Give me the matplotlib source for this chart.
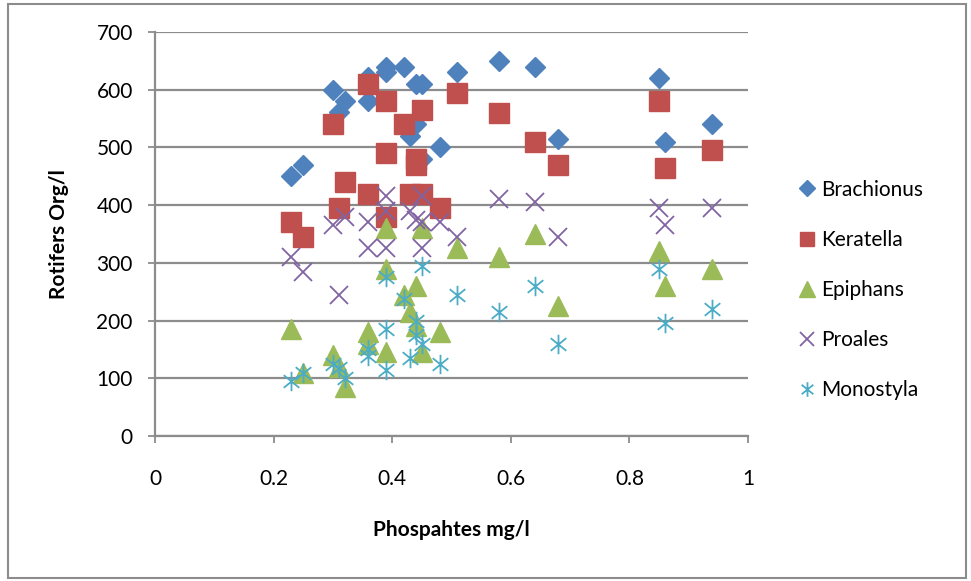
import numpy as np
import matplotlib
matplotlib.use("Agg")
import matplotlib.pyplot as plt
from matplotlib.path import Path
from matplotlib.patches import Rectangle

plt.rcParams['font.family'] = ['Lato', 'DejaVu Sans']

# data
brach_x = [0.23, 0.25, 0.30, 0.31, 0.32, 0.36, 0.36, 0.39, 0.39, 0.42, 0.43, 0.44,
           0.44, 0.45, 0.45, 0.48, 0.51, 0.58, 0.64, 0.68, 0.85, 0.86, 0.94]
brach_y = [450, 470, 600, 562, 580, 622, 580, 640, 630, 640, 520, 610,
           540, 610, 480, 500, 630, 650, 640, 515, 620, 510, 540]

kera_x = [0.23, 0.25, 0.30, 0.31, 0.32, 0.36, 0.36, 0.39, 0.39, 0.39, 0.42, 0.43,
          0.44, 0.44, 0.45, 0.45, 0.48, 0.51, 0.58, 0.64, 0.68, 0.85, 0.86, 0.94]
kera_y = [370, 345, 540, 395, 440, 610, 420, 580, 490, 380, 540, 420,
          480, 470, 565, 420, 395, 595, 560, 510, 470, 580, 465, 495]

epi_x = [0.23, 0.25, 0.30, 0.31, 0.32, 0.36, 0.36, 0.39, 0.39, 0.39, 0.42, 0.43,
         0.44, 0.44, 0.45, 0.45, 0.48, 0.51, 0.58, 0.64, 0.68, 0.85, 0.86, 0.94]
epi_y = [185, 110, 140, 120, 85, 180, 160, 360, 290, 145, 245, 215,
         260, 190, 360, 145, 180, 325, 310, 350, 225, 320, 260, 290]

proa_x = [0.23, 0.25, 0.30, 0.31, 0.32, 0.36, 0.36, 0.39, 0.39, 0.39, 0.43, 0.44,
          0.45, 0.45, 0.45, 0.48, 0.51, 0.58, 0.64, 0.68, 0.85, 0.86, 0.94]
proa_y = [310, 285, 365, 245, 380, 370, 325, 415, 390, 325, 390, 375,
          415, 370, 325, 370, 345, 410, 405, 345, 395, 365, 395]

mono_x = [0.23, 0.25, 0.30, 0.31, 0.32, 0.36, 0.36, 0.39, 0.39, 0.39, 0.42, 0.43,
          0.44, 0.44, 0.45, 0.45, 0.48, 0.51, 0.58, 0.64, 0.68, 0.85, 0.86, 0.94]
mono_y = [95, 110, 125, 118, 100, 150, 138, 275, 185, 115, 238, 135,
          200, 175, 295, 160, 125, 245, 215, 260, 160, 290, 195, 220]

x_ticks = [0, 0.2, 0.4, 0.6, 0.8, 1]
x_labels = ['0', '0.2', '0.4', '0.6', '0.8', '1']
y_ticks = [0, 100, 200, 300, 400, 500, 600, 700]

# excel style asterisk marker
star = Path([(0, -1), (0, 1), (-0.8, -0.65), (0.8, 0.65), (-0.8, 0.65), (0.8, -0.65)],
            [Path.MOVETO, Path.LINETO] * 3)

fs = 15

fig = plt.figure(figsize=(9.71, 5.81), dpi=100)
fig.patches.append(Rectangle((8 / 971, 3 / 581), 958 / 971, 574 / 581, transform=fig.transFigure,
                             fill=False, edgecolor='#8c8c8c', linewidth=1.5))
ax = fig.add_axes([155 / 971, 1 - 436 / 581, 593 / 971, 404 / 581])

ax.plot(brach_x, brach_y, 'D', color='#4F81BD', ms=10.5, mec='#4F81BD', label='Brachionus', zorder=3)
ax.plot(kera_x, kera_y, 's', color='#C0504D', ms=14, mec='#C0504D', label='Keratella', zorder=3)
ax.plot(epi_x, epi_y, '^', color='#9BBB59', ms=14.5, mec='#9BBB59', label='Epiphans', zorder=3)
ax.plot(proa_x, proa_y, 'x', color='#8064A2', ms=13.5, mew=1.3, label='Proales', zorder=3)
ax.plot(mono_x, mono_y, ls='none', marker=star, color='#4BACC6', ms=14, mew=1.3,
        label='Monostyla', zorder=3)

ax.set_xlim(0, 1)
ax.set_ylim(0, 700)
ax.set_xticks(x_ticks)
ax.set_xticklabels(x_labels)
ax.set_yticks(y_ticks)
ax.yaxis.grid(True, color='#8c8c8c', linewidth=1.6)
ax.set_axisbelow(True)
for s in ['top', 'right']:
    ax.spines[s].set_visible(False)
for s in ['left', 'bottom']:
    ax.spines[s].set_color('#8c8c8c')
    ax.spines[s].set_linewidth(1.6)
ax.tick_params(axis='both', direction='out', length=5, width=1.3, color='#8c8c8c',
               labelsize=fs, labelcolor='black')
ax.tick_params(axis='x', pad=19)
ax.tick_params(axis='y', pad=11)

ax.set_xlabel('Phospahtes mg/l', fontsize=fs, fontweight='bold', va='center')
ax.set_ylabel('Rotifers Org/l', fontsize=fs, fontweight='bold', va='center')
ax.xaxis.set_label_coords(0.5, -0.233)
ax.yaxis.set_label_coords(-0.162, 0.5)

leg = fig.legend(loc='center left', bbox_to_anchor=(794 / 971, 1 - 290 / 581), frameon=False,
                 fontsize=fs, handletextpad=0.1, labelspacing=1.45, handlelength=1.2,
                 markerscale=0.75, borderaxespad=0, borderpad=0)

fig.savefig('out.png', dpi=100)
